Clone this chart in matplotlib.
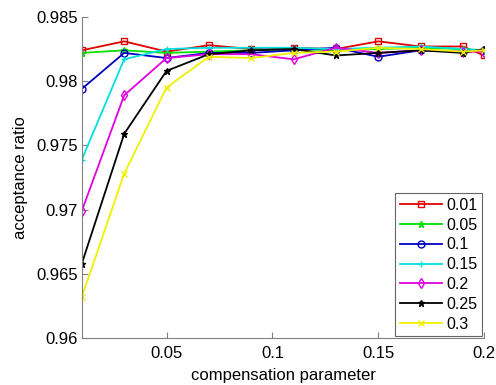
import matplotlib
matplotlib.use("Agg")
import matplotlib.pyplot as plt

plt.rcParams['font.family'] = ['Liberation Sans', 'DejaVu Sans']

# compensation parameter values (x)
comp = [0.01, 0.03, 0.05, 0.07, 0.09, 0.11, 0.13, 0.15, 0.17, 0.19, 0.2]

# acceptance ratio for each setting
r_001 = [0.9824, 0.9831, 0.9823, 0.9828, 0.9825, 0.9826, 0.9825, 0.9831, 0.9827, 0.9827, 0.9820]
r_005 = [0.9822, 0.9824, 0.9822, 0.9823, 0.9824, 0.9825, 0.9824, 0.9825, 0.9826, 0.9825, 0.9824]
r_01 = [0.9794, 0.9822, 0.9818, 0.9822, 0.9822, 0.9824, 0.9826, 0.9819, 0.9824, 0.9823, 0.9824]
r_015 = [0.9739, 0.9817, 0.9825, 0.9826, 0.9826, 0.9826, 0.9825, 0.9826, 0.9827, 0.9825, 0.9824]
r_02 = [0.9699, 0.9789, 0.9818, 0.9821, 0.9821, 0.9817, 0.9826, 0.9822, 0.9824, 0.9823, 0.9823]
r_025 = [0.9658, 0.9759, 0.9808, 0.9821, 0.9824, 0.9825, 0.9820, 0.9822, 0.9824, 0.9822, 0.9825]
r_03 = [0.9632, 0.9728, 0.9795, 0.9819, 0.9818, 0.9822, 0.9823, 0.9826, 0.9825, 0.9823, 0.9824]

series = [
    ("0.01", r_001, "#e00000", "s"),
    ("0.05", r_005, "#00e000", "*"),
    ("0.1", r_01, "#0000c0", "o"),
    ("0.15", r_015, "#00e0e0", "+"),
    ("0.2", r_02, "#e000e0", "d"),
    ("0.25", r_025, "#000000", "*"),
    ("0.3", r_03, "#f0f000", "x"),
]

fig = plt.figure(figsize=(4.96, 3.85), dpi=100)
axes = fig.add_axes([0.165, 0.122, 0.811, 0.834])

for label, vals, color, marker in series:
    axes.plot(comp, vals, color=color, marker=marker, markersize=5,
              markerfacecolor='none' if marker in ('s', 'o', 'd') else color,
              markeredgecolor=color, linewidth=1.3, label=label)

axes.set_xlim(0.01, 0.2)
axes.set_ylim(0.96, 0.985)
axes.set_xticks([0.05, 0.1, 0.15, 0.2])
axes.set_xticklabels(["0.05", "0.1", "0.15", "0.2"])
axes.set_yticks([0.96, 0.965, 0.97, 0.975, 0.98, 0.985])
axes.set_yticklabels(["0.96", "0.965", "0.97", "0.975", "0.98", "0.985"])
axes.tick_params(direction='in', labelsize=12, length=4, color='#808080', pad=3)
axes.tick_params(axis='x', pad=6)
axes.spines['top'].set_visible(False)
axes.spines['right'].set_visible(False)
axes.spines['left'].set_color('#808080')
axes.spines['bottom'].set_color('#808080')

axes.set_xlabel("compensation parameter", fontsize=12, labelpad=5)
axes.set_ylabel("acceptance ratio", fontsize=12, labelpad=6)

leg = axes.legend(loc='lower right', fontsize=11.5, fancybox=False,
                  borderaxespad=0.1, handlelength=2.6, labelspacing=0.3,
                  handletextpad=0.3, borderpad=0.3)
leg.get_frame().set_edgecolor('#404040')
leg.get_frame().set_linewidth(0.8)

fig.savefig("out.png", dpi=100)
